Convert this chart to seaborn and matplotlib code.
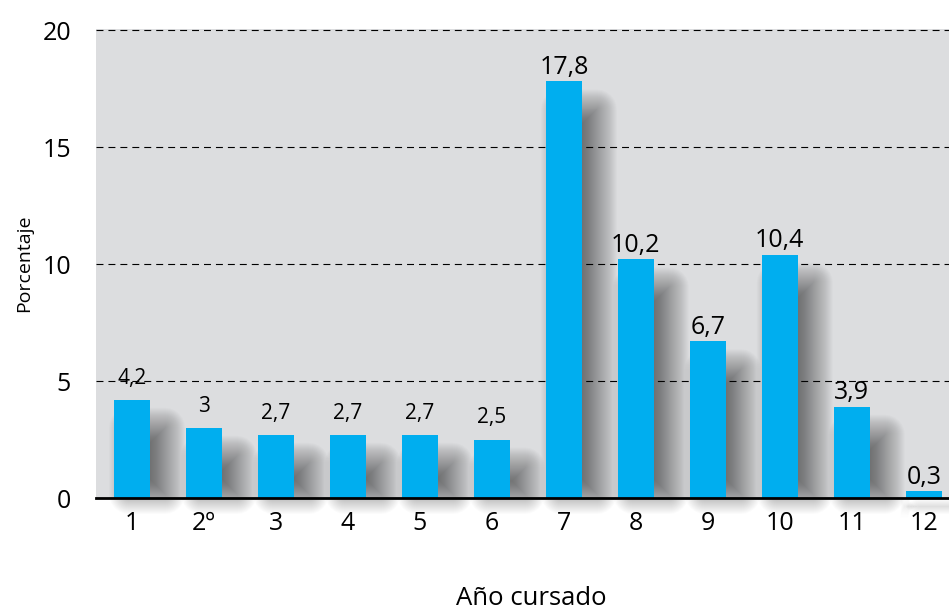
import numpy as np
import pandas as pd
from matplotlib import pyplot as plt
import matplotlib.patheffects as pe
from matplotlib.path import Path
from matplotlib.transforms import IdentityTransform
import seaborn as sns

# data
grades = ["1", "2º", "3", "4", "5", "6", "7", "8", "9", "10", "11", "12"]
percent = [4.2, 3.0, 2.7, 2.7, 2.7, 2.5, 17.8, 10.2, 6.7, 10.4, 3.9, 0.3]
small_labels = ["1", "2º", "3", "4", "5", "6"]

df = pd.DataFrame({"grade": grades, "pct": percent})


def rounded_rect(a, b, c, d, rad):
    """
    Closed path of rectangle (a,b)-(c,d) with corner radius rad
    """
    if rad <= 0:
        pts = [[a, b], [c, b], [c, d], [a, d]]
    else:
        pts = []
        for cx, cy, t0 in [(c - rad, b + rad, -90), (c - rad, d - rad, 0),
                           (a + rad, d - rad, 90), (a + rad, b + rad, 180)]:
            th = np.radians(np.linspace(t0, t0 + 90, 7))
            pts += list(zip(cx + rad * np.cos(th), cy + rad * np.sin(th)))
    pts.append(pts[0])
    codes = [Path.MOVETO] + [Path.LINETO] * (len(pts) - 2) + [Path.CLOSEPOLY]
    return Path(pts, codes)


class SoftShadow(pe.AbstractPathEffect):
    """
    Blurred drop shadow: stack of faint rounded rectangles grown/shrunk
    around the shifted bar outline (display pixels)
    """
    def __init__(self, dx=15, top=-28, bottom=4, radius=20, alpha=0.0168):
        super().__init__()
        self.dx, self.top, self.bottom = dx, top, bottom
        self.radius, self.alpha = radius, alpha

    def draw_path(self, renderer, gc, tpath, affine, rgbFace=None):
        v = affine.transform(tpath.vertices)
        x0, y0 = v.min(axis=0)
        x1, y1 = v.max(axis=0)
        x0, x1 = x0 + self.dx, x1 + self.dx
        y0, y1 = y0 + self.bottom, y1 + self.top
        gc0 = renderer.new_gc()
        gc0.copy_properties(gc)
        gc0.set_linewidth(0)
        gc0.set_alpha(self.alpha)
        for r in range(-self.radius, self.radius + 1):
            a, b, c, d = x0 - r, y0 - r, x1 + r, y1 + r
            if c - a < 1 or d - b < 1:
                continue
            renderer.draw_path(gc0, rounded_rect(a, b, c, d, r), IdentityTransform(), (0, 0, 0))
        gc0.restore()


sns.set_theme(style="white")
plt.rcParams['font.family'] = ['Open Sans', 'DejaVu Sans']
plt.rcParams['lines.scale_dashes'] = False

fig = plt.figure(figsize=(9.49, 6.11), dpi=100)
ax = fig.add_axes([96 / 949, 1 - 498 / 611, 1 - 96 / 949, (498 - 29.3) / 611])
ax.set_facecolor("#dcdddf")

# shadow layer (only the path effect gets drawn)
sns.barplot(data=df, x="grade", y="pct", order=grades, color="black",
            width=0.5, saturation=1, linewidth=0, edgecolor="none", ax=ax)
for p in ax.containers[0]:
    p.set_path_effects([SoftShadow()])
    p.set_zorder(1)
    p.set_clip_on(False)

sns.barplot(data=df, x="grade", y="pct", order=grades, color="#00aeef",
            width=0.5, saturation=1, linewidth=0, edgecolor="none", ax=ax)
for p in ax.containers[1]:
    p.set_zorder(2)

fmt = lambda v: ("%g" % v).replace(".", ",")
lab_small = [fmt(v) if g in small_labels else "" for g, v in zip(grades, percent)]
lab_big = [fmt(v) if g not in small_labels else "" for g, v in zip(grades, percent)]
ax.bar_label(ax.containers[1], labels=lab_small, padding=8, fontsize=15, color="black")
ax.bar_label(ax.containers[1], labels=lab_big, padding=1, fontsize=18, color="black")

ax.set_xlim(-0.5, 11.35)
ax.set_ylim(0, 20.03)
ax.set_yticks([0, 5, 10, 15, 20])

ax.set_axisbelow("line")
ax.yaxis.grid(True, color="black", linestyle=(0, (5, 3.6)), linewidth=0.8)
ax.xaxis.grid(False)

for s in ["top", "right", "left"]:
    ax.spines[s].set_visible(False)
ax.spines["bottom"].set_linewidth(2)
ax.spines["bottom"].set_color("black")
ax.spines["bottom"].set_zorder(3)

ax.tick_params(axis="both", length=0, labelsize=18, colors="black")
ax.tick_params(axis="y", pad=18)
ax.tick_params(axis="x", pad=9)

ax.set_xlabel("Año cursado", fontsize=18.5, color="black")
ax.xaxis.set_label_coords(0.51, -0.188)
ax.set_ylabel("Porcentaje", fontsize=14, color="black")
ax.yaxis.set_label_coords(-0.074, 0.5)

plt.savefig("out.png", dpi=100)
